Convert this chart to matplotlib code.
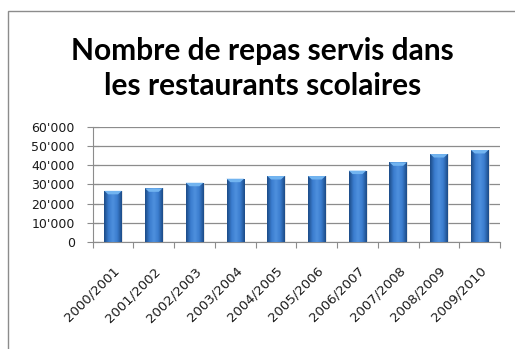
import numpy as np
import matplotlib.pyplot as plt
from matplotlib.patches import Polygon, Rectangle
from matplotlib.ticker import FuncFormatter, MultipleLocator

# Repas servis par année scolaire
annees = ['2000/2001', '2001/2002', '2002/2003', '2003/2004', '2004/2005',
          '2005/2006', '2006/2007', '2007/2008', '2008/2009', '2009/2010']
repas = [26700, 28000, 30900, 33000, 34400, 34400, 37200, 41500, 45800, 47900]

titre = 'Nombre de repas servis dans\nles restaurants scolaires'

plt.rcParams['font.family'] = ['DejaVu Sans']

fig = plt.figure(figsize=(5.15, 3.49), dpi=100)
ax = fig.add_axes([0.18, 0.3057, 0.791, 0.3313])

# cadre gris autour du graphique
fig.patches.append(Rectangle((8 / 515, -0.05), 1.2, 1 - 11 / 349 + 0.05,
                             transform=fig.transFigure, fill=False,
                             edgecolor='#8c8c8c', linewidth=1.0))

x = np.arange(len(annees))
largeur = 0.43
barres = ax.bar(x, repas, width=largeur, color='#2a64ad', zorder=2)

# légère ombre à droite des barres
ax.bar(x + 0.035, repas, width=largeur, color='#d0d0d0', alpha=0.5, zorder=1.5)

# dégradé horizontal (effet cylindre) dans chaque barre
cmap = plt.matplotlib.colors.LinearSegmentedColormap.from_list(
    'bleu', ['#1b4a86', '#3a7cce', '#4e90de', '#3a7cce', '#1b4a86'])
grad = np.linspace(0, 1, 64).reshape(1, -1)
for b, v in zip(barres, repas):
    x0 = b.get_x()
    im = ax.imshow(grad, cmap=cmap, aspect='auto', zorder=3,
                   extent=(x0, x0 + largeur, 0, v), interpolation='bicubic')
    im.set_clip_path(b)
    # biseau clair en haut de la barre
    h = 1800
    ax.add_patch(Polygon([(x0, v), (x0 + largeur, v),
                          (x0 + largeur * 0.78, v - h), (x0 + largeur * 0.22, v - h)],
                         closed=True, facecolor='#72b4f0', edgecolor='none', zorder=4))

ax.set_xlim(-0.5, len(annees) - 0.5)
ax.set_ylim(0, 60000)
ax.yaxis.set_major_locator(MultipleLocator(10000))
ax.yaxis.set_major_formatter(FuncFormatter(lambda v, p: f'{int(v):,}'.replace(',', "'")))
ax.grid(axis='y', color='#8c8c8c', linewidth=0.9, zorder=0)
ax.set_axisbelow(True)

# graduations entre les catégories
ax.set_xticks(np.arange(len(annees) + 1) - 0.5)
ax.set_xticklabels([])
ax.set_xticks(x, minor=True)
ax.set_xticklabels(annees, minor=True, rotation=45, ha='right', rotation_mode='anchor',
                   fontsize=9.5, color='#1a1a1a')
ax.tick_params(axis='x', which='minor', length=0, pad=16)
ax.tick_params(axis='x', which='major', length=4, color='#8c8c8c')
ax.tick_params(axis='y', direction='inout', length=8, color='#8c8c8c', labelsize=9,
               labelcolor='#1a1a1a', pad=9)

for s in ['top', 'right']:
    ax.spines[s].set_visible(False)
for s in ['left', 'bottom']:
    ax.spines[s].set_color('#8c8c8c')

fig.text(0.51, 0.805, titre, ha='center', va='center', fontsize=21.5, fontweight='bold',
         linespacing=1.3, color='black', family=['Lato', 'DejaVu Sans'])

fig.savefig('out.png', dpi=100)
